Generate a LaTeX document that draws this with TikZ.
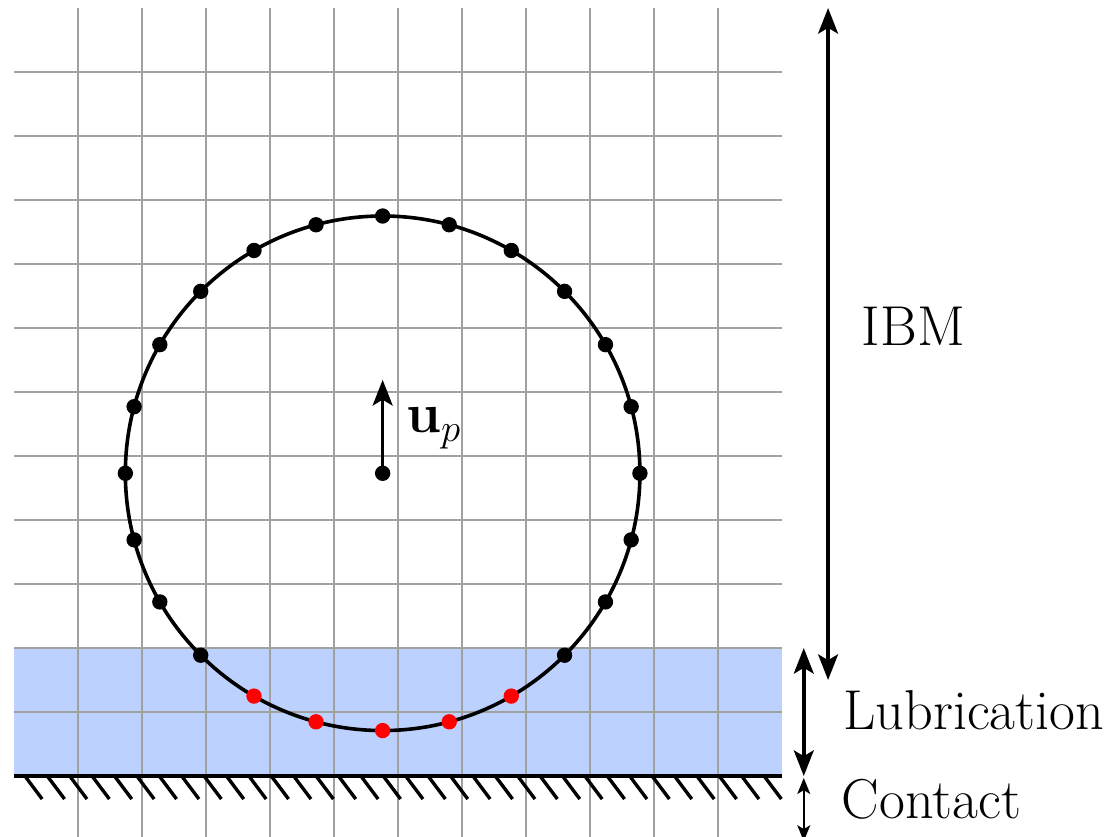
\documentclass[tikz,border=0pt]{standalone}
\usepackage{amsmath}
\usepackage{xcolor}
\usetikzlibrary{arrows.meta,calc}
\definecolor{Film}{HTML}{BDD1FE}
\definecolor{Mesh}{HTML}{A0A0A0}
\definecolor{Touch}{HTML}{FF0000}
\definecolor{Ink}{HTML}{000000}
\tikzset{meshline/.style={draw=Mesh,line width=0.9pt},marker/.style={circle,fill=Ink,inner sep=0pt,minimum size=0.24cm},contactmarker/.style={marker,fill=Touch},span/.style={draw=Ink,line width=1.6pt,{Stealth[length=4mm,width=3.1mm,inset=0.9mm]}-{Stealth[length=4mm,width=3.1mm,inset=0.9mm]}},smallspan/.style={draw=Ink,line width=1.1pt,{Stealth[length=2.5mm,width=2mm,inset=0.6mm]}-{Stealth[length=2.5mm,width=2mm,inset=0.6mm]}},velocity/.style={draw=Ink,line width=1.6pt,-{Stealth[length=4mm,width=3.1mm,inset=0.9mm]}},label/.style={anchor=base west,inner sep=0pt,text=Ink}}

\begin{document}
\begin{tikzpicture}[x=1cm,y=1cm,font=\fontsize{25}{30}\selectfont]
\clip (-0.21875,-0.9375) rectangle (17.21875,12.125);
\fill[Film] (0,0) rectangle (12,2);
\foreach \i in {1,...,11} {\draw[meshline] (\i,-1) -- (\i,12);\draw[meshline] (0,\i) -- (12,\i);}
\draw[Ink,line width=1.7pt] (0,0) -- (12,0);
\foreach \i in {0,...,33} {\draw[Ink,line width=1.5pt] (0.17+0.35*\i,0) -- ++(0.27,-0.36);}
\coordinate (C) at (5.76,4.73);
\draw[Ink,line width=1.6pt] (C) circle (4.02);
\foreach \k in {0,...,15,21,22,23} {\node[marker] (M\k) at ($(C)+(\k*15:4.02)$) {};}
\foreach \k in {16,...,20} {\node[contactmarker] (M\k) at ($(C)+(\k*15:4.02)$) {};}
\node[marker] (P0) at (C) {};\coordinate (Utip) at (5.76,6.19);\draw[velocity] (P0.center) -- (Utip);
\node[label] (Uname) at (6.12,5.36) {$\mathbf{u}_p$};
\coordinate (IBMtop) at (12.72,12.0);\coordinate (IBMbot) at (12.72,1.5);\draw[span] (IBMtop) -- (IBMbot);
\coordinate (LUBtop) at (12.34,2.0);\coordinate (LUBbot) at (12.34,0.0);\draw[span] (LUBtop) -- (LUBbot);
\coordinate (CONtop) at (12.34,-0.03);\coordinate (CONbot) at (12.34,-1.02);\draw[smallspan] (CONtop) -- (CONbot);
\node[label] (IBMname) at (13.24,6.73) {IBM};
\node[label] (LUBname) at (12.95,0.72) {Lubrication};
\node[label] (CONname) at (12.93,-0.66) {Contact};
\end{tikzpicture}
\end{document}
